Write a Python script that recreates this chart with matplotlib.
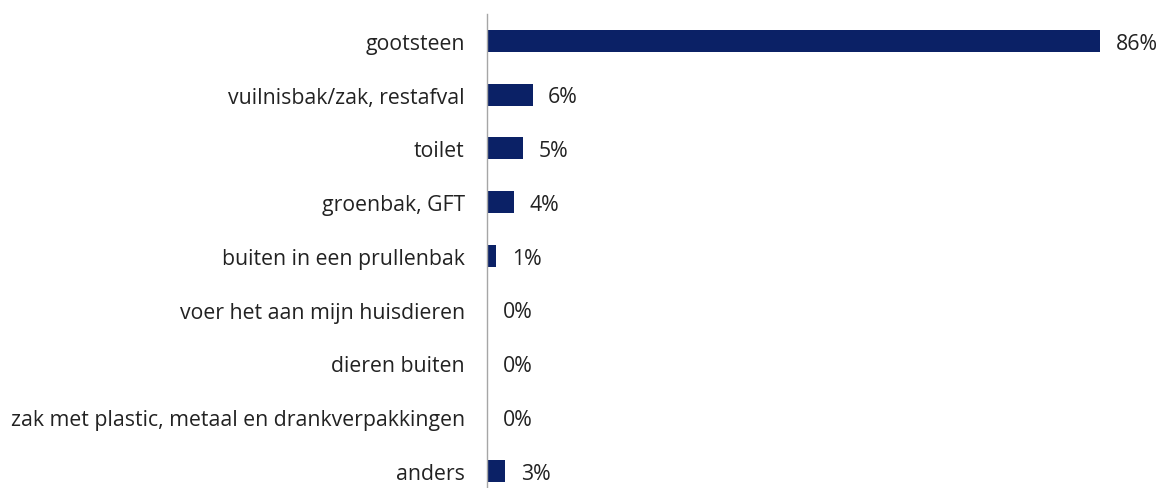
import matplotlib.pyplot as plt

plt.rcParams['font.family'] = ['Open Sans', 'DejaVu Sans']

categorieen = ['gootsteen', 'vuilnisbak/zak, restafval', 'toilet', 'groenbak, GFT',
               'buiten in een prullenbak', 'voer het aan mijn huisdieren', 'dieren buiten',
               'zak met plastic, metaal en drankverpakkingen', 'anders']
waarden = [86.0, 6.4, 5.1, 3.8, 1.3, 0.0, 0.0, 0.0, 2.6]
labels = ['86%', '6%', '5%', '4%', '1%', '0%', '0%', '0%', '3%']

kleur = '#0b2166'

fig = plt.figure(figsize=(11.62, 4.89), dpi=100)
ax = fig.add_axes([0.419, 0.0, 0.581, 0.9693])

y = range(len(categorieen))
ax.barh(y, waarden, height=0.41, color=kleur)
for i, (w, l) in enumerate(zip(waarden, labels)):
    ax.text(w + 2.2, i + 0.04, l, va='center', ha='left', fontsize=15.3, color='#222222')

ax.set_yticks(list(y))
ax.set_yticklabels(categorieen, fontsize=15.3, color='#222222')
ax.tick_params(axis='y', length=0, pad=16)
ax.set_xticks([])
ax.set_xlim(0, 94.7)
ax.set_ylim(8.317, -0.5)
for s in ['top', 'right', 'bottom']:
    ax.spines[s].set_visible(False)
ax.spines['left'].set_color('#a6a6a6')
ax.spines['left'].set_linewidth(1)

fig.savefig('out.png', dpi=100)
